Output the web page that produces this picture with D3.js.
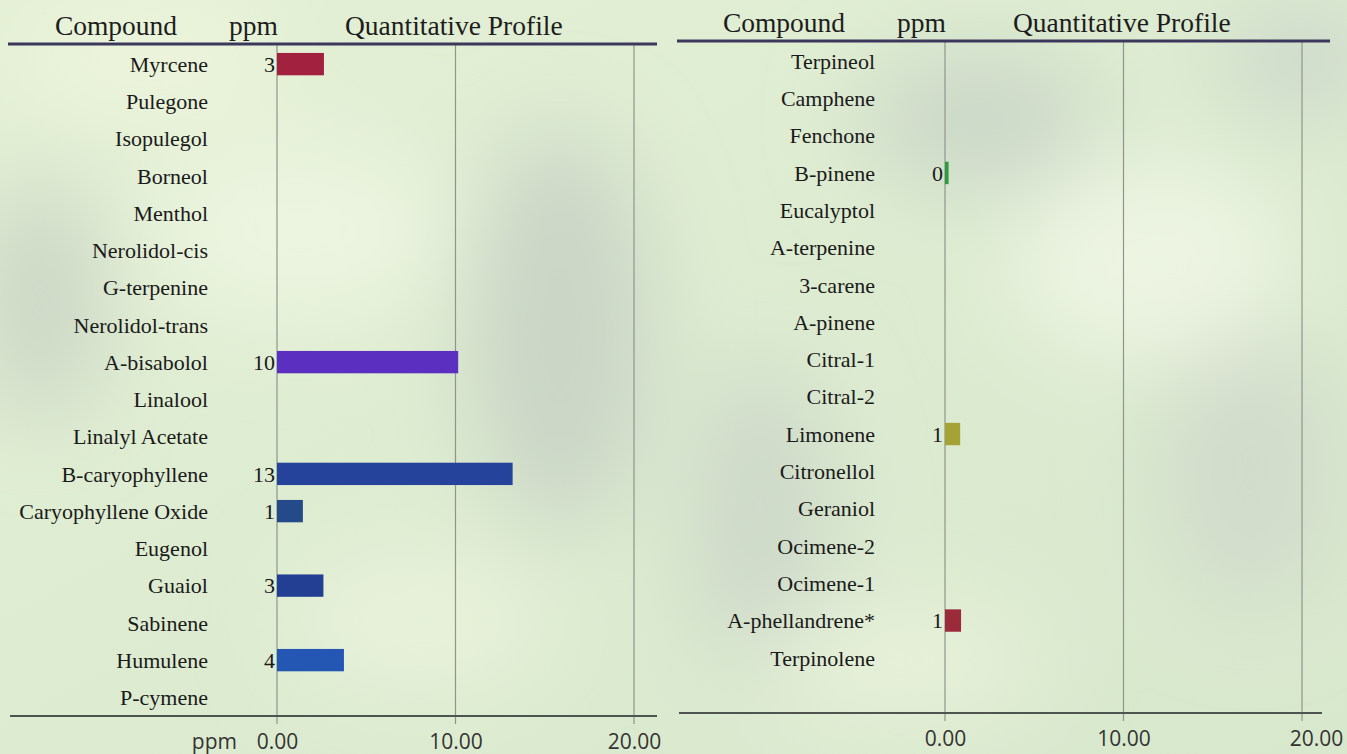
<!DOCTYPE html>
<html>
<head>
<meta charset="utf-8">
<script src="https://cdn.jsdelivr.net/npm/d3@7"></script>
<style>
  html, body { margin: 0; padding: 0; background: #dcebd0; }
  svg { display: block; }
</style>
</head>
<body>
<script>
// ---------- DATA ----------
const leftCompounds = ["Myrcene","Pulegone","Isopulegol","Borneol","Menthol","Nerolidol-cis","G-terpenine","Nerolidol-trans","A-bisabolol","Linalool","Linalyl Acetate","B-caryophyllene","Caryophyllene Oxide","Eugenol","Guaiol","Sabinene","Humulene","P-cymene"];
const leftValues = [2.63, null, null, null, null, null, null, null, 10.15, null, null, 13.2, 1.45, null, 2.6, null, 3.75, null];
const leftColors = ["#a2213f", null, null, null, null, null, null, null, "#5b2fbf", null, null, "#25439a", "#244a8a", null, "#223f93", null, "#2457b4", null];

const rightCompounds = ["Terpineol","Camphene","Fenchone","B-pinene","Eucalyptol","A-terpenine","3-carene","A-pinene","Citral-1","Citral-2","Limonene","Citronellol","Geraniol","Ocimene-2","Ocimene-1","A-phellandrene*","Terpinolene"];
const rightValues = [null, null, null, 0.2, null, null, null, null, null, null, 0.85, null, null, null, null, 0.9, null];
const rightColors = [null, null, null, "#2f9a3b", null, null, null, null, null, null, "#a5a236", null, null, null, null, "#9b2b3b", null];

const headerLabels = ["Compound", "ppm", "Quantitative Profile"];
const axisTicks = [0, 10, 20];
const axisDomain = [0, 20];

// ---------- LAYOUT ----------
const W = 1347, H = 754;
const svg = d3.select("body").append("svg").attr("width", W).attr("height", H);

// background
const defs = svg.append("defs");
const blur = defs.append("filter").attr("id", "blur").attr("x", "-50%").attr("y", "-50%").attr("width", "200%").attr("height", "200%");
blur.append("feGaussianBlur").attr("stdDeviation", 45);
const bgG = defs.append("linearGradient").attr("id", "bg").attr("x1", 0).attr("y1", 0).attr("x2", 1).attr("y2", 1);
bgG.append("stop").attr("offset", "0%").attr("stop-color", "#e4f0d5");
bgG.append("stop").attr("offset", "50%").attr("stop-color", "#ddecd1");
bgG.append("stop").attr("offset", "100%").attr("stop-color", "#d8e8cd");
svg.append("rect").attr("width", W).attr("height", H).attr("fill", "url(#bg)");
const blobs = svg.append("g").attr("filter", "url(#blur)");
[
  [560, 330, 90, 200, "#cad5c6"], [980, 120, 120, 70, "#ccd8c8"], [40, 300, 60, 120, "#cbd6c5"],
  [760, 520, 70, 160, "#ced9c9"], [1250, 470, 90, 140, "#d1dccb"], [300, 230, 150, 90, "#ecf5e0"],
  [1150, 260, 140, 100, "#edf5e2"], [420, 620, 130, 70, "#e8f2da"], [900, 660, 140, 60, "#e7f1d9"],
  [150, 60, 130, 50, "#eef6dd"], [1300, 60, 80, 60, "#ced9cb"]
].forEach(([cx, cy, rx, ry, c]) => blobs.append("ellipse").attr("cx", cx).attr("cy", cy).attr("rx", rx).attr("ry", ry).attr("fill", c));

const serif = "'Liberation Serif', 'Times New Roman', serif";
const sans = "'Open Sans', 'Liberation Sans', sans-serif";

function panel(cfg) {
  const g = svg.append("g");
  const x = d3.scaleLinear().domain(axisDomain).range([cfg.x0, cfg.x20]);
  const y = d3.scaleBand().domain(cfg.names).range([cfg.bandTop, cfg.bandTop + cfg.names.length * cfg.step]).paddingInner(0.4).paddingOuter(0.2);

  // headers
  const hx = cfg.headerX;
  g.selectAll("text.hdr").data(headerLabels).join("text")
    .attr("class", "hdr")
    .attr("x", (d, i) => hx[i]).attr("y", cfg.headerY)
    .attr("text-anchor", (d, i) => i === 0 ? "middle" : "start")
    .attr("font-family", serif).attr("font-size", 27.5).attr("fill", "#1d1d1d")
    .text(d => d);

  // grid lines
  g.selectAll("line.grid").data(axisTicks).join("line")
    .attr("class", "grid")
    .attr("x1", d => x(d)).attr("x2", d => x(d))
    .attr("y1", cfg.headerLineY).attr("y2", cfg.axisY + 8)
    .attr("stroke", "#8f958c").attr("stroke-width", 1.2);

  // header line
  g.append("line").attr("x1", cfg.lineX[0]).attr("x2", cfg.lineX[1])
    .attr("y1", cfg.headerLineY).attr("y2", cfg.headerLineY)
    .attr("stroke", "#3c385c").attr("stroke-width", 3);

  // axis
  const axis = d3.axisBottom(x).tickValues(axisTicks).tickFormat(d3.format(".2f")).tickSize(0).tickPadding(18);
  const ag = g.append("g").attr("transform", `translate(0,${cfg.axisY})`).call(axis);
  ag.select(".domain").remove();
  ag.selectAll("text").attr("font-family", sans).attr("font-size", 21).attr("fill", "#333")
    .attr("dx", (d, i) => (i === axisTicks.length - 1 ? cfg.lastDx : 0));
  g.append("line").attr("x1", cfg.lineX[0] + 2).attr("x2", cfg.axisEnd)
    .attr("y1", cfg.axisY).attr("y2", cfg.axisY)
    .attr("stroke", "#4e5450").attr("stroke-width", 2);
  if (cfg.ppmLabel) {
    g.append("text").attr("x", x(0) - 40).attr("y", cfg.axisY + 18).attr("dy", "0.71em")
      .attr("text-anchor", "end").attr("font-family", sans).attr("font-size", 21).attr("fill", "#333")
      .text("ppm");
  }

  const rows = cfg.names.map((n, i) => ({ name: n, v: cfg.values[i], c: cfg.colors[i] }));
  // compound labels
  g.selectAll("text.name").data(rows).join("text")
    .attr("class", "name")
    .attr("x", cfg.nameX).attr("y", d => y(d.name) + y.bandwidth() / 2)
    .attr("dy", "0.35em").attr("text-anchor", "end")
    .attr("font-family", serif).attr("font-size", 22).attr("fill", "#1a1a1a")
    .text(d => d.name);

  const withVal = rows.filter(d => d.v != null);
  g.selectAll("rect.bar").data(withVal).join("rect")
    .attr("class", "bar")
    .attr("x", x(0)).attr("y", d => y(d.name))
    .attr("width", d => x(d.v) - x(0)).attr("height", y.bandwidth())
    .attr("fill", d => d.c);
  g.selectAll("text.val").data(withVal).join("text")
    .attr("class", "val")
    .attr("x", x(0) - 2).attr("y", d => y(d.name) + y.bandwidth() / 2)
    .attr("dy", "0.35em").attr("text-anchor", "end")
    .attr("font-family", serif).attr("font-size", 22).attr("fill", "#1a1a1a")
    .text(d => Math.round(d.v));
}

panel({
  names: leftCompounds, values: leftValues, colors: leftColors,
  x0: 277, x20: 634, bandTop: 45.5, step: 37.25,
  headerX: [116, 229, 345], headerY: 35, headerLineY: 44,
  lineX: [8, 657], axisY: 716, axisEnd: 657, nameX: 208, ppmLabel: true, lastDx: 0
});
panel({
  names: rightCompounds, values: rightValues, colors: rightColors,
  x0: 945, x20: 1302, bandTop: 42.4, step: 37.3,
  headerX: [784, 897, 1013], headerY: 32, headerLineY: 41,
  lineX: [677, 1330], axisY: 713, axisEnd: 1322, nameX: 875, ppmLabel: false, lastDx: 14
});
</script>
</body>
</html>
